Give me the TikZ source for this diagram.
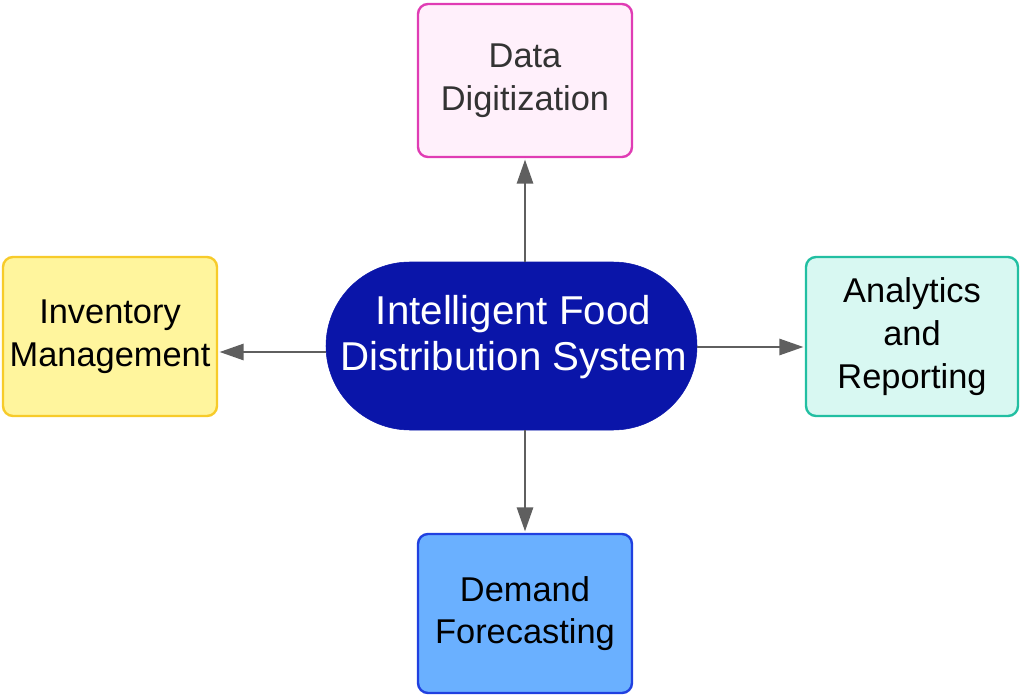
\documentclass[tikz,border=0pt]{standalone}
\usepackage{fontspec}
\setmainfont{Liberation Sans}
\usetikzlibrary{arrows.meta}

\definecolor{pinkfill}{HTML}{FFF0FB}
\definecolor{pinkline}{HTML}{E03CB4}
\definecolor{yelfill}{HTML}{FFF59D}
\definecolor{yelline}{HTML}{F7CB2A}
\definecolor{cyanfill}{HTML}{D8F8F2}
\definecolor{cyanline}{HTML}{22BFA2}
\definecolor{bluefill}{HTML}{6AB0FF}
\definecolor{blueline}{HTML}{2040E0}
\definecolor{hubfill}{HTML}{0A15A9}
\definecolor{arrgray}{HTML}{5F5F5F}
\definecolor{textgray}{HTML}{333333}

\tikzset{
  box/.style={rectangle, rounded corners=7.5pt, line width=1.8pt,
    align=center, inner sep=0pt,
    font=\fontsize{25.8}{32}\selectfont},
  hub/.style={rectangle, rounded corners=63pt, fill=hubfill, draw=hubfill,
    inner sep=0pt, minimum width=278.25pt, minimum height=126pt},
  hubtext/.style={text=white, align=center, inner sep=0pt,
    font=\fontsize{30.2}{35}\selectfont},
  arr/.style={draw=arrgray, line width=2pt,
    -{Triangle[length=18pt,width=12pt]}, shorten >=1pt},
}

\begin{document}
\begin{tikzpicture}[x=0.75pt,y=-0.75pt]
  \useasboundingbox (0,0) rectangle (1020,695);

  % central hub and its two-line title
  \node[hub] (hub) at (511.5,346) {};
  \node[hubtext] (hubtxt) at ([xshift=1.5pt,yshift=6.75pt]hub.center)
        {Intelligent Food\\Distribution System};

  % the four modules around it
  \node[box, fill=pinkfill, draw=pinkline, text=textgray,
        minimum width=160.5pt, minimum height=114.75pt]
        (dig) at (525,80.5) {Data\\Digitization};
  \node[box, fill=yelfill, draw=yelline,
        minimum width=160.5pt, minimum height=119.25pt]
        (inv) at (110,336.5) {Inventory\\Management};
  \node[box, fill=cyanfill, draw=cyanline,
        minimum width=159pt, minimum height=119.25pt]
        (ana) at (912,336.5) {Analytics\\and\\Reporting};
  \node[box, fill=bluefill, draw=blueline,
        minimum width=160.5pt, minimum height=119.25pt]
        (dem) at (525,613.5) {Demand\\Forecasting};

  % connectors from the hub outwards
  \draw[arr] (hub.north -| dig.south) -- (dig.south);
  \draw[arr] (hub.south -| dem.north) -- (dem.north);
  \draw[arr] ([yshift=-4.5pt]hub.west) -- ([yshift=-4.5pt]hub.west -| inv.east);
  \draw[arr] ([yshift=-0.75pt]hub.east) -- ([yshift=-0.75pt]hub.east -| ana.west);
\end{tikzpicture}
\end{document}
